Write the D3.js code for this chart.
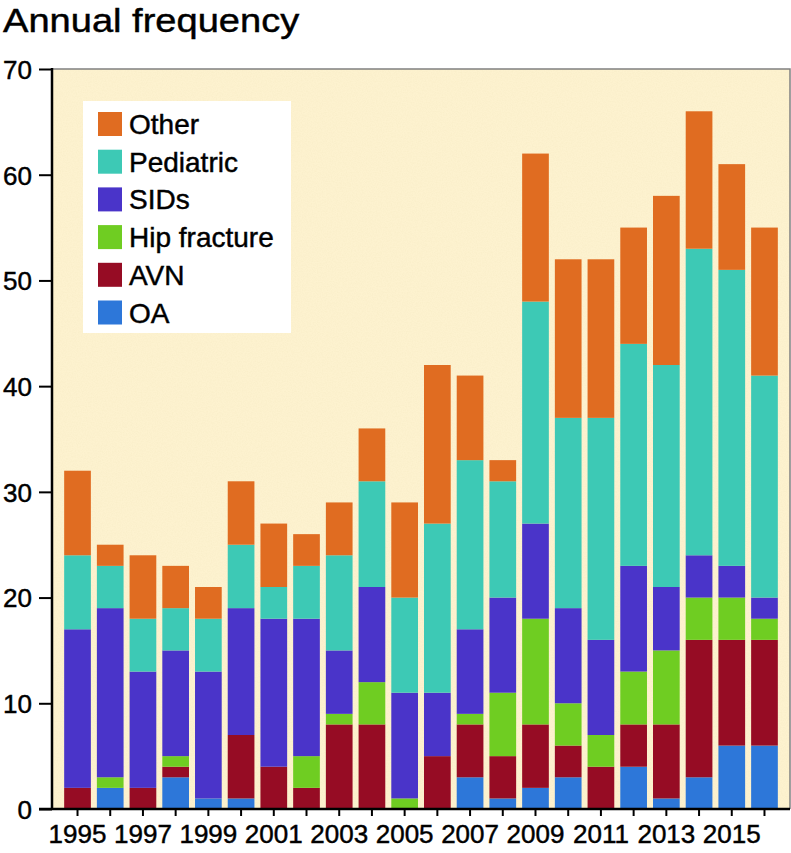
<!DOCTYPE html>
<html><head><meta charset="utf-8">
<script src="https://cdn.jsdelivr.net/npm/d3@7"></script>
<style>body{margin:0;background:#fff}</style>
</head><body>
<svg id="c" width="791" height="853"></svg>
<script>
const years = [1995,1996,1997,1998,1999,2000,2001,2002,2003,2004,2005,2006,2007,2008,2009,2010,2011,2012,2013,2014,2015,2016];
const keys = ["OA","AVN","Hip fracture","SIDs","Pediatric","Other"];
const OA        = [0,2,0,3,1,1,0,0,0,0,0,0,3,1,2,3,0,4,1,3,6,6];
const AVN       = [2,0,2,1,0,6,4,2,8,8,0,5,5,4,6,3,4,4,7,13,10,10];
const HipFx     = [0,1,0,1,0,0,0,3,1,4,1,0,1,6,10,4,3,5,7,4,4,2];
const SIDs      = [15,16,11,10,12,12,14,13,6,9,10,6,8,9,9,9,9,10,6,4,3,2];
const Pediatric = [7,4,5,4,5,6,3,5,9,10,9,16,16,11,21,18,21,21,21,29,28,21];
const Other     = [8,2,6,4,3,6,6,3,5,5,9,15,8,2,14,15,15,11,16,13,10,14];
const colors = ["#2d77d9","#960c24","#6fcd22","#4a34c9","#3dc9b5","#e06c21"];
const yTicks = [0,10,20,30,40,50,60,70];
const xLabelYears = [1995,1997,1999,2001,2003,2005,2007,2009,2011,2013,2015];
const legendOrder = ["Other","Pediatric","SIDs","Hip fracture","AVN","OA"];

const seriesArrays = [OA, AVN, HipFx, SIDs, Pediatric, Other];
const table = years.map((yr, i) => {
  const row = {year: yr};
  keys.forEach((k, j) => row[k] = seriesArrays[j][i]);
  return row;
});

const font = "'Liberation Sans', Arial, Helvetica, sans-serif";
const svg = d3.select("#c");
const L = 52, R = 790, T = 69, B = 809;

const x = d3.scaleBand().domain(years).range([L, R]).paddingInner(0.184).paddingOuter(0.372);
const y = d3.scaleLinear().domain([0, 70]).range([B, T]);
const color = d3.scaleOrdinal().domain(keys).range(colors);

// texture filter
const defs = svg.append("defs");
const f = defs.append("filter").attr("id","paper").attr("x",0).attr("y",0).attr("width","100%").attr("height","100%");
f.append("feTurbulence").attr("type","fractalNoise").attr("baseFrequency",0.8).attr("numOctaves",2).attr("seed",3).attr("result","n");
f.append("feColorMatrix").attr("in","n").attr("type","matrix")
  .attr("values","0 0 0 0 0.85  0 0 0 0 0.75  0 0 0 0 0.45  0 0 0 -0.9 0.55").attr("result","cm");
f.append("feComposite").attr("in","cm").attr("in2","SourceGraphic").attr("operator","atop");

// plot background
svg.append("rect").attr("x", L).attr("y", T).attr("width", R - L).attr("height", B - T)
  .attr("fill", "#fdf2cf");
svg.append("rect").attr("x", L).attr("y", T).attr("width", R - L).attr("height", B - T)
  .attr("fill", "#fdf2cf").attr("filter","url(#paper)").attr("opacity",0.4);
// top & right border
svg.append("path").attr("d", `M${L},${T}H${R}V${B}`).attr("fill","none").attr("stroke","#808080").attr("stroke-width",1.5);

// bars
const stacked = d3.stack().keys(keys)(table);
svg.append("g").selectAll("g").data(stacked).join("g")
  .attr("fill", d => color(d.key))
  .selectAll("rect").data(d => d).join("rect")
  .attr("x", d => x(d.data.year))
  .attr("width", x.bandwidth())
  .attr("y", d => y(d[1]))
  .attr("height", d => y(d[0]) - y(d[1]));

function heavy(sel) { return sel.attr("stroke", "#000").attr("stroke-width", 0.45).attr("fill", "#000"); }

// y axis
const yAxis = svg.append("g").attr("transform", `translate(${L},0)`)
  .call(d3.axisLeft(y).tickValues(yTicks).tickSize(13).tickPadding(7));
yAxis.select(".domain").remove();
yAxis.selectAll(".tick line").attr("stroke","#000").attr("stroke-width",2);
heavy(yAxis.selectAll("text").attr("font-family", font).attr("font-size", 26).attr("dy","0.36em"));
svg.append("line").attr("x1", L).attr("x2", L).attr("y1", T - 1).attr("y2", B + 1).attr("stroke","#000").attr("stroke-width",2.5);

// x axis
const xAxis = svg.append("g").attr("transform", `translate(0,${B})`)
  .call(d3.axisBottom(x).tickValues(years).tickSize(7).tickPadding(9)
    .tickFormat(d => xLabelYears.includes(d) ? d : ""));
xAxis.select(".domain").remove();
xAxis.selectAll(".tick line").attr("stroke","#000").attr("stroke-width",2);
heavy(xAxis.selectAll("text").attr("font-family", font).attr("font-size", 26));
svg.append("line").attr("x1", 39).attr("x2", R).attr("y1", B).attr("y2", B).attr("stroke","#000").attr("stroke-width",2.5);

// title
heavy(svg.append("text").attr("transform", "translate(3,32) scale(1.12,1)").attr("font-family", font).attr("font-size", 34)
  .text("Annual frequency"));

// legend
const lg = svg.append("g");
lg.append("rect").attr("x", 83).attr("y", 101).attr("width", 208).attr("height", 232).attr("fill","#fff");
const rows = lg.selectAll("g.row").data(legendOrder).join("g").attr("class","row")
  .attr("transform", (d, i) => `translate(98,${112 + i * 37.7})`);
rows.append("rect").attr("width", 24).attr("height", 24).attr("fill", d => color(d));
heavy(rows.append("text").attr("x", 31).attr("y", 22).attr("font-family", font).attr("font-size", 28)
  .text(d => d));
</script>
</body></html>
